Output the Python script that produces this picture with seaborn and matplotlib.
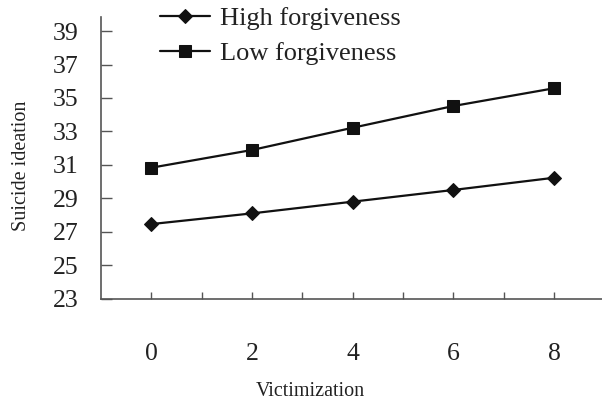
import pandas as pd
import matplotlib.pyplot as plt
import seaborn as sns

# values
victimization = [0, 2, 4, 6, 8]
high_forgiveness = [27.46, 28.1, 28.8, 29.5, 30.23]
low_forgiveness = [30.83, 31.89, 33.22, 34.52, 35.58]
groups = ["High forgiveness", "Low forgiveness"]
y_ticks = [23, 25, 27, 29, 31, 33, 35, 37, 39]
x_ticks = [0, 2, 4, 6, 8]

df = pd.DataFrame({
    "Victimization": victimization * 2,
    "Suicide ideation": high_forgiveness + low_forgiveness,
    "group": [groups[0]] * 5 + [groups[1]] * 5,
})

sns.set_style("ticks")
plt.rcParams["font.family"] = ["Liberation Serif", "DejaVu Serif"]

fig = plt.figure(figsize=(6.02, 4.0), dpi=100)
ax = fig.add_axes([0.1678, 0.2533, 0.8322, 0.7042])

sns.lineplot(data=df, x="Victimization", y="Suicide ideation", hue="group",
             style="group", markers={groups[0]: "D", groups[1]: "s"},
             dashes=False, palette={groups[0]: "#111111", groups[1]: "#111111"},
             linewidth=1.6, markersize=8, markeredgecolor="#111111",
             ax=ax, legend=True)
for ln in ax.lines:
    if ln.get_marker() == "D":
        ln.set_markersize(7.5)

ax.set_xlim(-1.0, 8.95)
ax.set_ylim(23, 39.84)
ax.set_yticks(y_ticks)
ax.set_xticks(x_ticks)
ax.set_xticks([1, 3, 5, 7], minor=True)
ax.tick_params(axis="y", direction="in", length=8, width=1, labelsize=18.5,
               pad=16, color="#555555", labelcolor="#222222")
ax.tick_params(axis="x", which="both", direction="in", length=5, width=1,
               labelsize=18.5, pad=32, color="#555555", labelcolor="#222222")
sns.despine(ax=ax)
for s in ["left", "bottom"]:
    ax.spines[s].set_color("#555555")
    ax.spines[s].set_linewidth(1.2)

ax.set_xlabel("Victimization", fontsize=14.5, color="#222222")
ax.set_ylabel("Suicide ideation", fontsize=14.5, color="#222222")
ax.xaxis.set_label_coords(0.417, -0.33)
ax.xaxis.label.set_verticalalignment("center")
ax.yaxis.set_label_coords(-0.158, 0.471)
ax.yaxis.label.set_verticalalignment("center")

handles, labels = ax.get_legend_handles_labels()
ax.legend(handles, labels, loc="upper left", bbox_to_anchor=(0.265, 0.983),
          bbox_transform=fig.transFigure, frameon=False, fontsize=19,
          handlelength=1.9, handletextpad=0.4, labelspacing=0.42,
          borderpad=0, borderaxespad=0, labelcolor="#222222")

fig.savefig("out.png", dpi=100)
